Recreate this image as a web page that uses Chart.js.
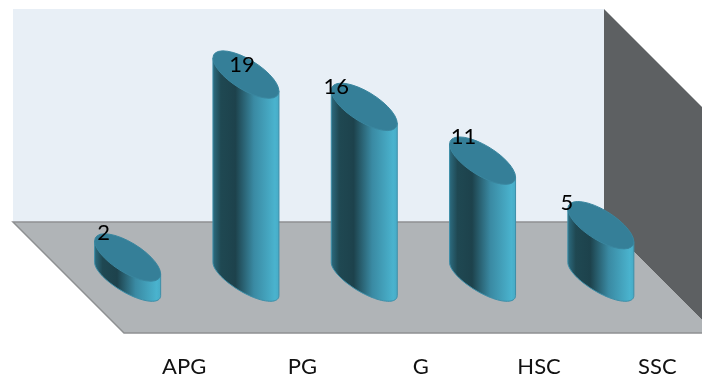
<!DOCTYPE html>
<html>
<head>
<meta charset="utf-8">
<title>Cylinder chart</title>
<script src="https://cdn.jsdelivr.net/npm/chart.js@4/dist/chart.umd.min.js"></script>
<style>
    html, body { margin: 0; padding: 0; background: #fff; }
    #wrap { width: 702px; height: 380px; }
</style>
</head>
<body>
<div id="wrap"><canvas id="cylChart"></canvas></div>
<script>
const categories = ['APG', 'PG', 'G', 'HSC', 'SSC'];
const counts = [2, 19, 16, 11, 5];

// Value labels sit at hand-placed spots around each cylinder top
const labelShiftX = [-24, -4, -28, -19, -34];
const labelShiftY = [-25, -10, -20, -24, -22];

const FONT = 'Lato, "Open Sans", sans-serif';

// Wall and floor geometry, the floor runs out obliquely to the side and down
const WALL_TOP = 9;
const DEPTH = 111;
const FLOOR_BACK_Y = 222;

// Cylinder ends are sheared ellipses
const SHEAR = 16.5 / 33;
const BASE_MINOR = 15;
const CAP_MINOR = 17;

function polygon(ctx, pts, fill) {
    ctx.beginPath();
    pts.forEach((p, i) => i ? ctx.lineTo(p[0], p[1]) : ctx.moveTo(p[0], p[1]));
    ctx.closePath();
    ctx.fillStyle = fill;
    ctx.fill();
}

// Half of a sheared ellipse, from the left end to the right end
function lowerArc(ctx, cx, cy, a) {
    for (let t = Math.PI; t >= 0; t -= Math.PI / 40) {
        const dx = a * Math.cos(t);
        ctx.lineTo(cx + dx, cy + dx * SHEAR + BASE_MINOR * Math.sin(t));
    }
}

function drawCylinder(ctx, bar) {
    const a = bar.width / 2;
    const cx = bar.x;
    const left = cx - a;
    const right = cx + a;

    const side = ctx.createLinearGradient(left, 0, right, 0);
    side.addColorStop(0, '#2c6b7f');
    side.addColorStop(0.12, '#1f4852');
    side.addColorStop(0.34, '#1d424c');
    side.addColorStop(0.62, '#3a8aa3');
    side.addColorStop(0.94, '#4ab3ce');
    side.addColorStop(1, '#47abc6');

    // body: down the left edge, around the base, back up the right edge
    ctx.beginPath();
    ctx.moveTo(left, bar.y - a * SHEAR);
    ctx.lineTo(left, bar.base - a * SHEAR);
    lowerArc(ctx, cx, bar.base, a);
    ctx.lineTo(right, bar.y + a * SHEAR);
    ctx.closePath();
    ctx.fillStyle = side;
    ctx.fill();
    ctx.strokeStyle = '#3d8ea8';
    ctx.lineWidth = 1;
    ctx.stroke();

    // top cap
    ctx.save();
    ctx.transform(1, SHEAR, 0, 1, cx, bar.y);
    ctx.beginPath();
    ctx.ellipse(0, 0, a, CAP_MINOR, 0, 0, Math.PI * 2);
    ctx.restore();
    ctx.fillStyle = '#357f98';
    ctx.fill();
    ctx.strokeStyle = '#3a869f';
    ctx.stroke();
}

const cylinderScene = {
    id: 'cylinderScene',
    beforeDatasetsDraw(chart) {
        const ctx = chart.ctx;
        const backLeft = 13;
        const backRight = 604;
        const front = FLOOR_BACK_Y + DEPTH;

        ctx.save();
        polygon(ctx, [[backLeft, WALL_TOP], [backRight, WALL_TOP], [backRight, FLOOR_BACK_Y], [backLeft, FLOOR_BACK_Y]], '#e8eff6');
        polygon(ctx, [[backRight, WALL_TOP], [backRight + DEPTH, WALL_TOP + DEPTH], [backRight + DEPTH, front], [backRight, FLOOR_BACK_Y]], '#5d6062');
        polygon(ctx, [[backLeft, FLOOR_BACK_Y], [backRight, FLOOR_BACK_Y], [backRight + DEPTH, front], [backLeft + DEPTH, front]], '#b0b4b7');

        // floor outline
        ctx.strokeStyle = '#8e9092';
        ctx.lineWidth = 1.5;
        ctx.beginPath();
        ctx.moveTo(backRight, FLOOR_BACK_Y);
        ctx.lineTo(backLeft, FLOOR_BACK_Y);
        ctx.lineTo(backLeft + DEPTH, front);
        ctx.lineTo(backRight + DEPTH, front);
        ctx.stroke();
        ctx.restore();
    },
    afterDatasetsDraw(chart) {
        const ctx = chart.ctx;
        const bars = chart.getDatasetMeta(0).data;

        ctx.save();
        bars.forEach(bar => drawCylinder(ctx, bar));

        ctx.fillStyle = '#000';
        ctx.font = '22px ' + FONT;
        ctx.textAlign = 'center';
        ctx.textBaseline = 'middle';
        bars.forEach((bar, i) => {
            ctx.fillText(String(counts[i]), bar.x + labelShiftX[i], bar.y + labelShiftY[i]);
        });
        ctx.restore();
    }
};

document.addEventListener('DOMContentLoaded', function () {
    const ctx = document.getElementById('cylChart').getContext('2d');

    new Chart(ctx, {
        type: 'bar',
        data: {
            labels: categories,
            datasets: [{
                data: counts,
                backgroundColor: 'transparent',
                barThickness: 66
            }]
        },
        options: {
            responsive: true,
            maintainAspectRatio: false,
            animation: false,
            layout: {
                padding: { left: 68.5, right: 42, top: 10, bottom: 0 }
            },
            scales: {
                x: {
                    grid: { display: false },
                    border: { display: false },
                    afterFit(scale) { scale.height = 101; },
                    ticks: {
                        color: '#111',
                        font: { family: FONT, size: 22 },
                        padding: 67,
                        labelOffset: 56.5,
                        autoSkip: false,
                        maxRotation: 0
                    }
                },
                y: {
                    display: false,
                    min: 0,
                    max: 25
                }
            },
            plugins: {
                legend: { display: false },
                tooltip: { enabled: false }
            }
        },
        plugins: [cylinderScene]
    });
});
</script>
</body>
</html>
